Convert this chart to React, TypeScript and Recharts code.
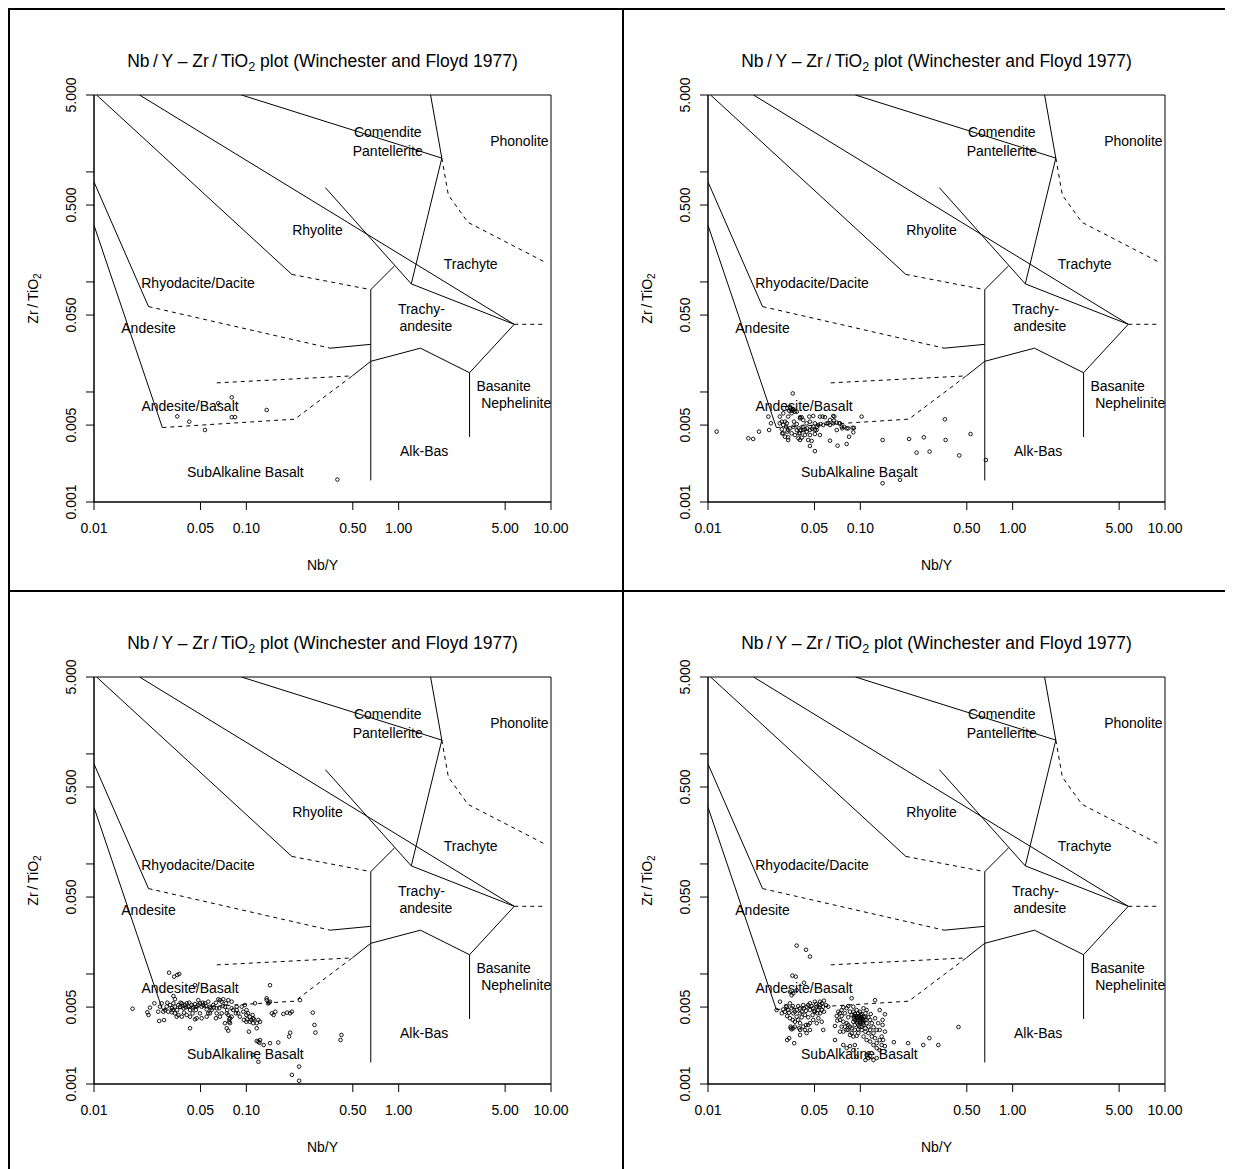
import React from 'react';
import { ComposedChart, XAxis, YAxis, Line, Scatter, ReferenceArea } from 'recharts';

const FONT = '"Liberation Sans", Arial, Helvetica, sans-serif';

// Axis ticks (log10 scales)
const X_TICKS = [0.01, 0.05, 0.1, 0.5, 1, 5, 10];
const X_TICK_LABELS = ['0.01', '0.05', '0.10', '0.50', '1.00', '5.00', '10.00'];
const Y_TICKS = [0.001, 0.005, 0.01, 0.05, 0.1, 0.5, 1, 5];
const Y_TICK_LABELS = ['0.001', '0.005', '', '0.050', '', '0.500', '', '5.000'];

// Field boundaries of the Winchester & Floyd (1977) diagram: [Nb/Y, Zr/TiO2]
const SOLID_LINES: number[][][] = [
  [[0.01, 0.327], [0.0281, 0.00475]],
  [[0.01, 0.81], [0.0228, 0.0597]],
  [[0.0104, 5], [0.199, 0.117]],
  [[0.0199, 5], [5.74, 0.0412]],
  [[0.0929, 5], [1.92, 1.335]],
  [[1.62, 5], [1.92, 1.335], [1.21, 0.096]],
  [[0.33, 0.72], [1.21, 0.096], [5.74, 0.0412]],
  [[0.656, 0.00157], [0.656, 0.0851], [0.94, 0.14]],
  [[0.356, 0.025], [0.656, 0.0271]],
  [[0.496, 0.014], [0.656, 0.019], [1.39, 0.025], [2.92, 0.01496], [5.74, 0.0412]],
  [[2.92, 0.01496], [2.92, 0.0039]],
];
const DASHED_LINES: number[][][] = [
  [[0.0281, 0.00475], [0.208, 0.00566], [0.496, 0.014]],
  [[0.064, 0.0121], [0.496, 0.014]],
  [[0.0228, 0.0597], [0.356, 0.025]],
  [[0.199, 0.117], [0.656, 0.0851]],
  [[1.92, 1.335], [2.12, 0.615], [2.85, 0.348], [9.42, 0.148]],
  [[5.74, 0.0412], [9.25, 0.0412]],
];

// Field names and where they sit
const FIELD_NAMES = ['Comendite', 'Pantellerite', 'Phonolite', 'Rhyolite', 'Trachyte', 'Rhyodacite/Dacite', 'Trachy-', 'andesite', 'Andesite', 'Basanite', 'Nephelinite', 'Andesite/Basalt', 'Alk-Bas', 'SubAlkaline Basalt'];
const FIELD_X = [0.848, 0.848, 6.2, 0.293, 2.97, 0.0482, 1.41, 1.51, 0.0228, 4.89, 5.91, 0.0427, 1.47, 0.0986];
const FIELD_Y = [2.32, 1.56, 1.89, 0.297, 0.146, 0.0983, 0.0565, 0.0399, 0.038, 0.01135, 0.00795, 0.00746, 0.00289, 0.00188];

// Samples: [Nb/Y, Zr/TiO2]
const SAMPLES_A: number[][] = [
  [0.0352, 0.006], [0.0422, 0.00537], [0.0535, 0.00451], [0.0802, 0.00894], [0.0802, 0.0059],
  [0.0843, 0.0059], [0.136, 0.00686], [0.396, 0.0016], [0.0654, 0.0079],
];

const SAMPLES_B: number[][] = [
  [0.0114, 0.00436], [0.036, 0.0097], [0.0184, 0.00379], [0.0198, 0.00374], [0.0216, 0.00436],
  [0.0249, 0.00597], [0.0252, 0.00451], [0.0259, 0.00519], [0.102, 0.00597], [0.0675, 0.00597],
  [0.14, 0.00366], [0.209, 0.00374], [0.261, 0.00387], [0.359, 0.00564], [0.363, 0.00366],
  [0.529, 0.00415], [0.234, 0.00281], [0.285, 0.00287], [0.446, 0.00265], [0.667, 0.00241],
  [0.14, 0.00148], [0.182, 0.00159], [0.0503, 0.0029], [0.0467, 0.00323], [0.0709, 0.00325],
  [0.0813, 0.00337], [0.0899, 0.0043], [0.0843, 0.00392], [0.0908, 0.00472],
  [0.0296, 0.00519], [0.032, 0.00537], [0.0336, 0.00597], [0.0345, 0.0071], [0.0363, 0.00686],
  [0.0354, 0.0064], [0.0383, 0.00662], [0.0402, 0.00576], [0.0412, 0.00589], [0.0305, 0.00458],
  [0.0312, 0.00421], [0.0332, 0.00436], [0.0354, 0.00421], [0.0383, 0.00451], [0.0402, 0.00421],
  [0.0422, 0.00483], [0.0444, 0.00519], [0.0467, 0.00537], [0.0503, 0.00519], [0.0529, 0.00501],
  [0.0543, 0.00597], [0.0566, 0.00597], [0.0616, 0.00519], [0.0632, 0.00501], [0.0665, 0.00519],
  [0.07, 0.00451], [0.0755, 0.00483], [0.0782, 0.00483], [0.0813, 0.00467], [0.0402, 0.00366],
  [0.0392, 0.00379], [0.0336, 0.00366], [0.0479, 0.00359], [0.0455, 0.00366], [0.0632, 0.00361],
  [0.0543, 0.00406], [0.0516, 0.00451], [0.0444, 0.00436], [0.0363, 0.00483], [0.0296, 0.00597],
  [0.0312, 0.0064], [0.0341, 0.00676],
  [0.0331, 0.0071], [0.0345, 0.00735], [0.0363, 0.00696], [0.0372, 0.00662], [0.0354, 0.00676],
  [0.0402, 0.00589], [0.0422, 0.00556], [0.0462, 0.00597], [0.0491, 0.00605], [0.0586, 0.00589],
  [0.0664, 0.00605], [0.0727, 0.00519], [0.0761, 0.00467], [0.0833, 0.00467], [0.089, 0.00472],
  [0.0305, 0.00537], [0.0312, 0.00501], [0.0325, 0.00483], [0.0329, 0.00519], [0.0336, 0.00451],
  [0.0345, 0.00467], [0.0367, 0.00537], [0.0382, 0.00511], [0.0394, 0.00467], [0.0406, 0.00451],
  [0.0422, 0.00451], [0.0433, 0.00457], [0.0448, 0.00467], [0.0467, 0.00451], [0.0482, 0.00463],
  [0.0491, 0.00483], [0.0503, 0.00451], [0.0521, 0.00483], [0.0549, 0.00511], [0.0571, 0.00501],
  [0.0601, 0.00519], [0.0632, 0.00556], [0.0671, 0.00548], [0.07, 0.00526], [0.0735, 0.00519],
  [0.0307, 0.00421], [0.032, 0.00392], [0.0336, 0.00387], [0.0372, 0.00406], [0.0396, 0.00421],
  [0.0412, 0.00384], [0.0433, 0.00406], [0.0467, 0.00406], [0.0503, 0.00415],
];

const SAMPLES_C: number[][] = [
  [0.0179, 0.00483], [0.0224, 0.00448], [0.0228, 0.00424], [0.0233, 0.00494], [0.0249, 0.00541],
  [0.0268, 0.00374], [0.0288, 0.00381], [0.0271, 0.00505], [0.0278, 0.00541], [0.0285, 0.00454],
  [0.0311, 0.01027], [0.0336, 0.00945], [0.0352, 0.0098], [0.0363, 0.01], [0.03, 0.00505],
  [0.0316, 0.00522], [0.0324, 0.00488], [0.0332, 0.00541], [0.034, 0.00505], [0.0307, 0.00454],
  [0.0324, 0.00448], [0.0332, 0.0063], [0.034, 0.0059],
  [0.0358, 0.00522], [0.0367, 0.00504], [0.0377, 0.00541], [0.0386, 0.00488], [0.0396, 0.00522],
  [0.0406, 0.00541], [0.0416, 0.00504], [0.0427, 0.0047], [0.0437, 0.00522], [0.0448, 0.00504],
  [0.046, 0.00533], [0.0472, 0.00504], [0.0496, 0.00541], [0.0509, 0.00504], [0.0521, 0.00522],
  [0.0535, 0.00541], [0.0549, 0.00476], [0.0577, 0.00504], [0.0592, 0.0047], [0.0607, 0.00522],
  [0.0639, 0.00488], [0.0655, 0.00589], [0.0671, 0.00578], [0.0689, 0.0056], [0.0706, 0.00589],
  [0.0724, 0.00504], [0.0743, 0.00439], [0.0761, 0.00424], [0.0781, 0.00396], [0.0773, 0.00368],
  [0.0801, 0.00409], [0.082, 0.0047], [0.0864, 0.00504], [0.0932, 0.00504], [0.0978, 0.00522],
  [0.1003, 0.0047], [0.1027, 0.00439], [0.1055, 0.00409], [0.108, 0.00382], [0.111, 0.00396],
  [0.114, 0.00541], [0.12, 0.00382], [0.123, 0.00368], [0.136, 0.00578], [0.139, 0.00541],
  [0.143, 0.0056], [0.147, 0.00439], [0.151, 0.00424], [0.155, 0.00454], [0.175, 0.00433],
  [0.185, 0.00445], [0.194, 0.00439], [0.199, 0.00454], [0.225, 0.00578], [0.273, 0.00445],
  [0.28, 0.00344], [0.284, 0.00293], [0.194, 0.00293], [0.191, 0.0027], [0.421, 0.00279],
  [0.415, 0.00251], [0.12, 0.00243], [0.123, 0.00251], [0.117, 0.00246], [0.143, 0.00235],
  [0.162, 0.00238], [0.12, 0.00159], [0.11, 0.00184], [0.199, 0.00121], [0.222, 0.00144],
  [0.222, 0.00107], [0.143, 0.0079], [0.136, 0.00601], [0.141, 0.00548], [0.0427, 0.00321],
  [0.0472, 0.00396], [0.0509, 0.00396], [0.0562, 0.00439], [0.0671, 0.00409], [0.0724, 0.00357],
  [0.0743, 0.00321], [0.0761, 0.00305], [0.0954, 0.00454], [0.1, 0.00424], [0.1055, 0.00368],
  [0.0406, 0.00424], [0.0377, 0.00409], [0.046, 0.0079], [0.046, 0.00387], [0.0427, 0.00409],
  [0.0358, 0.00424], [0.034, 0.00439], [0.0639, 0.00439], [0.0577, 0.00439], [0.0689, 0.00439],
  [0.0484, 0.00578], [0.0761, 0.00578], [0.0801, 0.0056], [0.0864, 0.0047], [0.0885, 0.00439],
  [0.1, 0.00368], [0.111, 0.00357], [0.117, 0.00321], [0.104, 0.00299], [0.13, 0.00226],
  [0.122, 0.00237],
  [0.0264, 0.00454], [0.0293, 0.0047], [0.0303, 0.00548], [0.0329, 0.0047], [0.0352, 0.0047],
  [0.037, 0.00548], [0.0382, 0.00511], [0.0402, 0.00497], [0.0422, 0.00548], [0.0444, 0.00488],
  [0.0467, 0.0047], [0.0484, 0.00522], [0.0517, 0.00548], [0.0544, 0.00511], [0.0562, 0.0056],
  [0.0583, 0.00488], [0.0613, 0.00497], [0.0632, 0.00548], [0.0664, 0.00488], [0.07, 0.00511],
  [0.0735, 0.00541], [0.0749, 0.0047], [0.0801, 0.00488], [0.0855, 0.00439], [0.0907, 0.00409],
  [0.0964, 0.00382], [0.101, 0.00387], [0.11, 0.00424], [0.112, 0.00387], [0.117, 0.00357],
  [0.0632, 0.00396], [0.0549, 0.00409], [0.0496, 0.00439], [0.0444, 0.00439], [0.039, 0.00445],
  [0.0349, 0.00409], [0.0773, 0.00387], [0.0781, 0.00357],
];

const SAMPLES_D: number[][] = [
  [0.0382, 0.0181], [0.044, 0.0166], [0.0467, 0.0144], [0.0358, 0.00965], [0.0377, 0.00945],
  [0.0427, 0.00833], [0.0345, 0.0069], [0.0363, 0.00666], [0.0354, 0.0064], [0.0382, 0.00713],
  [0.0297, 0.0056], [0.0282, 0.0047], [0.0305, 0.00439], [0.032, 0.00454], [0.0336, 0.0047],
  [0.0329, 0.00504], [0.0345, 0.00541], [0.0354, 0.00488], [0.0363, 0.00439], [0.0382, 0.0047],
  [0.0402, 0.00488], [0.0422, 0.00522], [0.0444, 0.00504], [0.0467, 0.0047], [0.0491, 0.00488],
  [0.0517, 0.00504], [0.053, 0.0047], [0.0544, 0.00522], [0.0571, 0.00504], [0.0577, 0.00572],
  [0.0616, 0.00504], [0.0503, 0.00454], [0.0544, 0.00439], [0.0402, 0.00439], [0.0433, 0.00424],
  [0.0382, 0.00409], [0.0345, 0.00396], [0.0372, 0.00368], [0.0402, 0.00357], [0.0422, 0.00332],
  [0.0455, 0.00344], [0.0467, 0.0031], [0.0433, 0.0031], [0.0363, 0.00321], [0.0354, 0.00314],
  [0.0331, 0.00251], [0.0368, 0.00235], [0.0402, 0.00279], [0.0558, 0.00368], [0.0571, 0.0031],
  [0.0517, 0.00357], [0.0349, 0.00321], [0.0341, 0.00261],
  [0.0312, 0.00476], [0.0325, 0.00511], [0.034, 0.00445], [0.036, 0.00511], [0.0372, 0.00454],
  [0.0391, 0.00511], [0.0412, 0.00454], [0.0427, 0.00488], [0.044, 0.00463], [0.0455, 0.00522],
  [0.0479, 0.00511], [0.0496, 0.00463], [0.0512, 0.00533], [0.0538, 0.00497], [0.0558, 0.0047],
  [0.0521, 0.00439], [0.0486, 0.00424], [0.0455, 0.00404], [0.0412, 0.00404], [0.0391, 0.00382],
  [0.036, 0.00382], [0.0331, 0.00415], [0.0349, 0.00332], [0.0372, 0.00332], [0.0397, 0.00321],
  [0.044, 0.00344], [0.0467, 0.00357], [0.0491, 0.00382], [0.053, 0.00396], [0.0444, 0.0029],
  [0.0402, 0.0031], [0.0544, 0.0056], [0.0467, 0.00541], [0.0503, 0.0056], [0.0558, 0.00541],
  [0.0577, 0.00454], [0.0594, 0.00522],
  [0.07, 0.00415], [0.0754, 0.0047], [0.0813, 0.00488], [0.0855, 0.00454], [0.0899, 0.00504],
  [0.0946, 0.0047], [0.0995, 0.00454], [0.105, 0.00488], [0.11, 0.0047], [0.117, 0.00433],
  [0.0877, 0.00601], [0.125, 0.00578], [0.145, 0.0043], [0.0735, 0.00382], [0.0773, 0.00368],
  [0.0813, 0.00357], [0.0855, 0.00332], [0.0899, 0.00368], [0.0946, 0.00396], [0.0995, 0.00396],
  [0.102, 0.00368], [0.105, 0.00344], [0.108, 0.00382], [0.11, 0.00357], [0.113, 0.00332],
  [0.116, 0.0031], [0.122, 0.0029], [0.119, 0.0027], [0.125, 0.00261], [0.134, 0.00251],
  [0.141, 0.00251], [0.138, 0.00226], [0.145, 0.00221], [0.14, 0.00344], [0.134, 0.0031],
  [0.122, 0.00226], [0.128, 0.00212], [0.134, 0.00203], [0.11, 0.00184], [0.108, 0.00165],
  [0.113, 0.00172], [0.116, 0.0018], [0.0946, 0.00177], [0.0773, 0.00226], [0.0813, 0.00212],
  [0.0855, 0.00221], [0.0899, 0.00203], [0.092, 0.00226], [0.0682, 0.00251], [0.0735, 0.00299],
  [0.0773, 0.00299], [0.0833, 0.0031], [0.0877, 0.0029], [0.092, 0.0031], [0.0969, 0.0029],
  [0.102, 0.0031], [0.108, 0.00299], [0.166, 0.0024], [0.206, 0.00235], [0.259, 0.00226],
  [0.284, 0.00261], [0.325, 0.00226], [0.441, 0.0033], [0.128, 0.00172], [0.122, 0.00165],
  [0.113, 0.0019], [0.0969, 0.00404], [0.0985, 0.00382], [0.101, 0.00404], [0.104, 0.00387],
  [0.0954, 0.00377], [0.0935, 0.00415], [0.1, 0.00357], [0.1055, 0.00404], [0.0907, 0.00396],
  [0.0969, 0.00344], [0.0833, 0.00511], [0.0735, 0.00439],
  [0.0717, 0.00454], [0.0754, 0.00415], [0.0792, 0.00439], [0.0833, 0.00404], [0.0877, 0.00424],
  [0.0899, 0.00454], [0.092, 0.00433], [0.0969, 0.00439], [0.102, 0.00433], [0.108, 0.00439],
  [0.113, 0.00404], [0.116, 0.00382], [0.119, 0.00357], [0.122, 0.00328], [0.092, 0.00344],
  [0.0877, 0.00321], [0.0833, 0.00344], [0.0792, 0.00332], [0.0754, 0.00332], [0.0969, 0.00314],
  [0.102, 0.00332], [0.108, 0.00321], [0.113, 0.0029], [0.128, 0.0031], [0.131, 0.00357],
  [0.125, 0.00396], [0.0813, 0.0031], [0.0855, 0.00279], [0.0899, 0.0027], [0.0946, 0.00274],
  [0.105, 0.0027], [0.11, 0.00251], [0.116, 0.00243], [0.128, 0.00235], [0.138, 0.0027],
  [0.145, 0.00299], [0.134, 0.0047], [0.14, 0.00382], [0.0773, 0.00497], [0.0706, 0.00377],
  [0.0682, 0.00337],
  [0.0946, 0.00404], [0.0985, 0.00415], [0.102, 0.00396], [0.105, 0.00377], [0.0995, 0.00368],
  [0.0954, 0.00357], [0.092, 0.00382], [0.104, 0.00357], [0.108, 0.00409], [0.0985, 0.00332],
  [0.0907, 0.00415], [0.101, 0.00421],
];

const PANELS = [SAMPLES_A, SAMPLES_B, SAMPLES_C, SAMPLES_D];

const toXY = (rows: number[][]) => rows.map(([x, y]) => ({ x, y }));
const FIELD_DATA = FIELD_NAMES.map((name, i) => ({ x: FIELD_X[i], y: FIELD_Y[i], name }));

const CELL_W = 612;
const CELL_H = 580;
const MARGIN = { top: 85, right: 71, bottom: 0, left: 0 };
const Y_AXIS_W = 84;
const X_AXIS_H = 88;
const PLOT_BOTTOM = CELL_H - X_AXIS_H;
const PLOT_CX = Y_AXIS_W + (CELL_W - Y_AXIS_W - MARGIN.right) / 2;
const PLOT_CY = MARGIN.top + (PLOT_BOTTOM - MARGIN.top) / 2;

const XTick = (props: any) => {
  const { x, payload } = props;
  const i = X_TICKS.findIndex((t) => Math.abs(t - payload.value) < 1e-9);
  return (
    <text x={x} y={PLOT_BOTTOM + 31} textAnchor="middle" fontSize={14} fontFamily={FONT} fill="#000">
      {i >= 0 ? X_TICK_LABELS[i] : ''}
    </text>
  );
};

const YTick = (props: any) => {
  const { y, payload } = props;
  const i = Y_TICKS.findIndex((t) => Math.abs(t - payload.value) < 1e-12);
  const label = i >= 0 ? Y_TICK_LABELS[i] : '';
  if (!label) return <g />;
  const bx = Y_AXIS_W - 18;
  return (
    <text x={bx} y={y} transform={`rotate(-90, ${bx}, ${y})`} textAnchor="middle" fontSize={14} fontFamily={FONT} fill="#000">
      {label}
    </text>
  );
};

const SampleDot = (p: any) => (
  <circle cx={p.cx} cy={p.cy} r={1.8} fill="none" stroke="#000" strokeWidth={0.9} />
);

const FieldLabel = (p: any) => (
  <text x={p.cx} y={p.cy} dy="0.35em" textAnchor="middle" fontSize={14} fontFamily={FONT} fill="#000">
    {p.payload?.name ?? p.name}
  </text>
);

function Panel({ samples }: { samples: number[][] }) {
  return (
    <div style={{ position: 'relative', width: CELL_W, height: CELL_H, background: '#fff' }}>
      <ComposedChart width={CELL_W} height={CELL_H} margin={MARGIN}>
        <XAxis
          type="number"
          dataKey="x"
          scale="log"
          domain={[0.01, 10]}
          ticks={X_TICKS}
          interval={0}
          allowDataOverflow
          height={X_AXIS_H}
          tickSize={8}
          tick={<XTick />}
          axisLine={{ stroke: '#000' }}
          tickLine={{ stroke: '#000' }}
        />
        <YAxis
          type="number"
          dataKey="y"
          scale="log"
          domain={[0.001, 5]}
          ticks={Y_TICKS}
          interval={0}
          allowDataOverflow
          width={Y_AXIS_W}
          tickSize={8}
          tick={<YTick />}
          axisLine={{ stroke: '#000' }}
          tickLine={{ stroke: '#000' }}
        />
        <ReferenceArea x1={0.01} x2={10} y1={0.001} y2={5} fill="none" stroke="#000" strokeWidth={1} ifOverflow="visible" />
        {SOLID_LINES.map((seg, i) => (
          <Line key={`s${i}`} data={toXY(seg)} dataKey="y" type="linear" stroke="#000" strokeWidth={1} dot={false} activeDot={false} isAnimationActive={false} legendType="none" />
        ))}
        {DASHED_LINES.map((seg, i) => (
          <Line key={`d${i}`} data={toXY(seg)} dataKey="y" type="linear" stroke="#000" strokeWidth={1} strokeDasharray="4 4" dot={false} activeDot={false} isAnimationActive={false} legendType="none" />
        ))}
        <Scatter data={FIELD_DATA} shape={FieldLabel} isAnimationActive={false} legendType="none" />
        <Scatter data={toXY(samples)} shape={SampleDot} isAnimationActive={false} legendType="none" />
      </ComposedChart>
      <svg width={CELL_W} height={CELL_H} style={{ position: 'absolute', left: 0, top: 0, pointerEvents: 'none' }}>
        <text x={PLOT_CX} y={57} textAnchor="middle" fontSize={17.5} fontFamily={FONT} fill="#000">
          Nb{'\u2009'}/{'\u2009'}Y {'\u2013'} Zr{'\u2009'}/{'\u2009'}TiO<tspan dy={4} fontSize={12.5}>2</tspan>
          <tspan dy={-4}> plot (Winchester and Floyd 1977)</tspan>
        </text>
        <text x={PLOT_CX} y={560} textAnchor="middle" fontSize={14} fontFamily={FONT} fill="#000">
          Nb/Y
        </text>
        <text x={28} y={PLOT_CY} transform={`rotate(-90, 28, ${PLOT_CY})`} textAnchor="middle" fontSize={14} fontFamily={FONT} fill="#000">
          Zr{'\u2009'}/{'\u2009'}TiO<tspan dy={3} fontSize={10}>2</tspan>
        </text>
      </svg>
    </div>
  );
}

export default function App() {
  const pos = [
    [2, 2],
    [616, 2],
    [2, 584],
    [616, 584],
  ];
  return (
    <div style={{ position: 'relative', width: 1225, height: 1161, overflow: 'hidden' }}>
      <div style={{ position: 'absolute', left: 0, top: 0, width: 1230, height: 1166, background: '#000' }}>
        {PANELS.map((s, i) => (
          <div key={i} style={{ position: 'absolute', left: pos[i][0], top: pos[i][1] }}>
            <Panel samples={s} />
          </div>
        ))}
      </div>
    </div>
  );
}
